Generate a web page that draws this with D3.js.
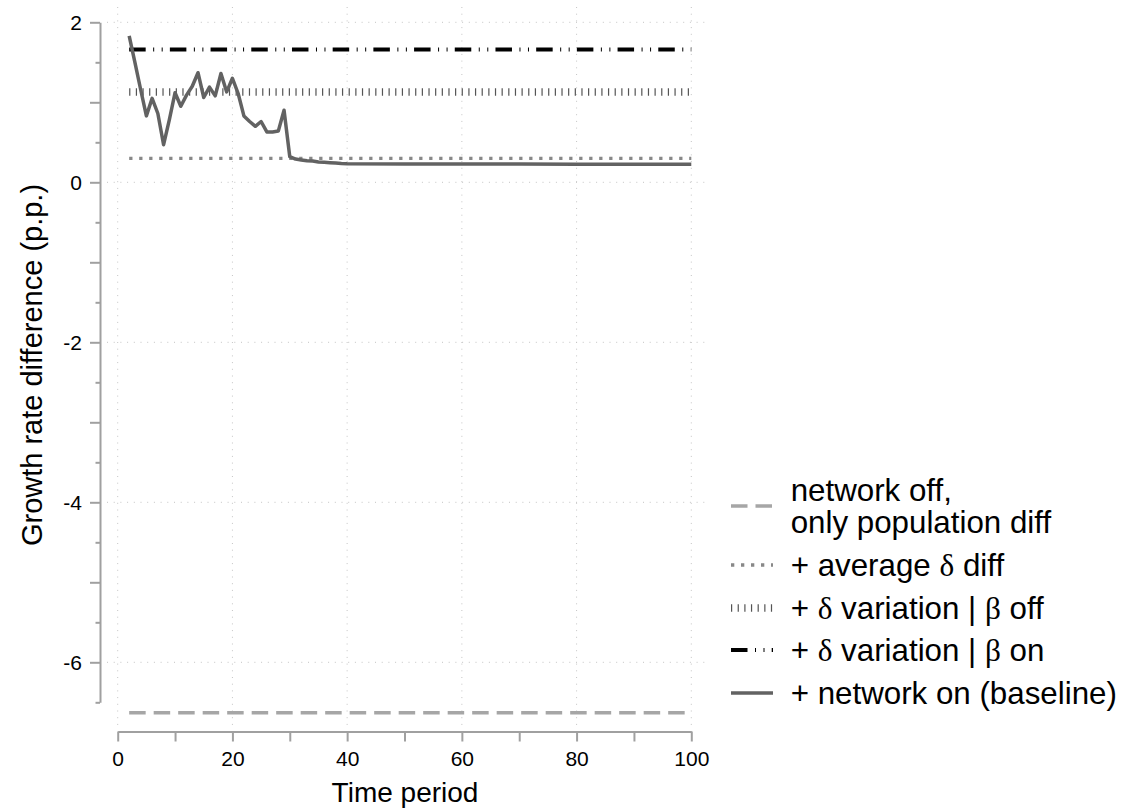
<!DOCTYPE html>
<html>
<head>
<meta charset="utf-8">
<script src="https://cdn.jsdelivr.net/npm/d3@7"></script>
<style>
  body { margin: 0; background: #fff; }
  text { font-family: "Liberation Sans", Arial, sans-serif; fill: #000; }
  .greek { font-family: "Liberation Serif", "Times New Roman", serif; }
</style>
</head>
<body>
<svg id="chart" width="1125" height="811"></svg>
<script>
// periods and values
var periods = [2, 3, 4, 5, 6, 7, 8, 9, 10, 11, 12, 13, 14, 15, 16, 17, 18, 19, 20,
  21, 22, 23, 24, 25, 26, 27, 28, 29, 30, 31, 32, 33, 34, 35, 36, 37, 38, 39, 40,
  50, 60, 70, 80, 90, 100]
var networkOn = [1.83, 1.50, 1.16, 0.83, 1.05, 0.86, 0.47, 0.78, 1.12, 0.95, 1.09, 1.20, 1.37, 1.06, 1.19, 1.08, 1.36, 1.13, 1.30,
  1.11, 0.83, 0.76, 0.70, 0.76, 0.63, 0.63, 0.64, 0.90, 0.32, 0.29, 0.28, 0.27, 0.265, 0.255, 0.25, 0.245, 0.24, 0.235, 0.232,
  0.23, 0.229, 0.228, 0.227, 0.226, 0.225]

var flatPeriods = [2, 100]
var networkOff = [-6.63, -6.63]
var avgDelta = [0.30, 0.30]
var deltaVarBetaOff = [1.13, 1.13]
var deltaVarBetaOn = [1.66, 1.66]

var xTicks = [0, 10, 20, 30, 40, 50, 60, 70, 80, 90, 100]
var yTicks = [2, 1, 0, -1, -2, -3, -4, -5, -6]
var yMinor = [1.5, 0.5, -0.5, -1.5, -2.5, -3.5, -4.5, -5.5, -6.5]

var series = [
  { key: 'off',  t: flatPeriods, v: networkOff,      color: '#a6a6a6', width: 3.5, dash: '16.5,8' },
  { key: 'avg',  t: flatPeriods, v: avgDelta,        color: '#888',    width: 3.3, dash: '3.3,6.7' },
  { key: 'boff', t: flatPeriods, v: deltaVarBetaOff, color: '#555',    width: 7.5, dash: '1.2,5.45' },
  { key: 'bon',  t: flatPeriods, v: deltaVarBetaOn,  color: '#000',    width: 4,   dash: '16.5,7.5,1,7.5,1,7.2' },
  { key: 'on',   t: periods,     v: networkOn,       color: '#626262', width: 3.5, dash: null }
]

var svg = d3.select('#chart')

var x = d3.scaleLinear().domain([0, 100]).range([117.7, 691.3])
var y = d3.scaleLinear().domain([2, -6.5]).range([22.3, 702.3])

// grid
var grid = svg.append('g').attr('stroke', '#c4c4c4').attr('stroke-width', 1).attr('stroke-dasharray', '1,5.7')
grid.selectAll('.hg').data([2, 0, -2, -4, -6]).enter().append('line')
  .attr('x1', 107).attr('x2', 707)
  .attr('y1', function (d) { return y(d) }).attr('y2', function (d) { return y(d) })
grid.selectAll('.vg').data([0, 20, 40, 60, 80, 100]).enter().append('line')
  .attr('y1', 7).attr('y2', 725)
  .attr('x1', function (d) { return x(d) }).attr('x2', function (d) { return x(d) })

// axes
var axisColor = '#a0a0a0'
function style (g) {
  g.select('.domain').attr('stroke', axisColor).attr('stroke-width', 2)
  g.selectAll('.tick line').attr('stroke', axisColor).attr('stroke-width', 2)
  g.selectAll('.tick text').attr('font-size', 21).attr('font-family', '"Liberation Sans", Arial, sans-serif').attr('fill', '#000')
}

svg.append('g').attr('transform', 'translate(0,731.5)')
  .call(d3.axisBottom(x).tickValues(xTicks).tickSize(10).tickSizeOuter(0).tickPadding(10)
    .tickFormat(function (d) { return d % 20 === 0 ? String(d) : '' }))
  .call(style)

svg.append('g').attr('transform', 'translate(100,0)')
  .call(d3.axisLeft(y).tickValues(yMinor).tickSize(4.5).tickFormat(''))
  .call(function (g) { g.select('.domain').remove() })
  .call(style)

svg.append('g').attr('transform', 'translate(100,0)')
  .call(d3.axisLeft(y).tickValues(yTicks).tickSize(10).tickSizeOuter(0).tickPadding(8)
    .tickFormat(function (d) { return d % 2 === 0 ? String(d) : '' }))
  .call(style)
  .call(function (g) { g.selectAll('.tick text').attr('dy', '0.36em') })

// titles
svg.append('text').attr('x', 405).attr('y', 802).attr('text-anchor', 'middle')
  .attr('font-size', 28).text('Time period')
svg.append('text').attr('transform', 'translate(42,365) rotate(-90)').attr('text-anchor', 'middle')
  .attr('font-size', 29).text('Growth rate difference (p.p.)')

// lines
var line = d3.line()
  .x(function (d) { return x(d[0]) })
  .y(function (d) { return y(d[1]) })

svg.append('g').selectAll('path').data(series).enter().append('path')
  .attr('fill', 'none')
  .attr('stroke', function (d) { return d.color })
  .attr('stroke-width', function (d) { return d.width })
  .attr('stroke-dasharray', function (d) { return d.dash })
  .attr('stroke-linejoin', 'round')
  .attr('d', function (d) { return line(d3.zip(d.t, d.v)) })

// legend
var legendRows = [
  { key: 'off',  y: 506, lines: [[['network off,']], [['only population diff']]] },
  { key: 'avg',  y: 565, lines: [[['+ average '], ['δ', 1], [' diff']]] },
  { key: 'boff', y: 608, lines: [[['+ '], ['δ', 1], [' variation | '], ['β', 1], [' off']]] },
  { key: 'bon',  y: 650, lines: [[['+ '], ['δ', 1], [' variation | '], ['β', 1], [' on']]] },
  { key: 'on',   y: 693, lines: [[['+ network on (baseline)']]] }
]
var byKey = {}
series.forEach(function (s) { byKey[s.key] = s })

var leg = svg.append('g')
legendRows.forEach(function (r) {
  var s = byKey[r.key]
  leg.append('line').attr('x1', 731).attr('x2', 773).attr('y1', r.y).attr('y2', r.y)
    .attr('stroke', s.color).attr('stroke-width', s.width).attr('stroke-dasharray', s.dash)
  var base = r.y + 10.5 - (r.lines.length - 1) * 16
  r.lines.forEach(function (parts, i) {
    var t = leg.append('text').attr('x', 790.7).attr('y', base + i * 32).attr('font-size', 31.3)
    parts.forEach(function (p) {
      var sp = t.append('tspan').text(p[0])
      if (p[1]) sp.attr('class', 'greek')
    })
  })
})
</script>
</body>
</html>
